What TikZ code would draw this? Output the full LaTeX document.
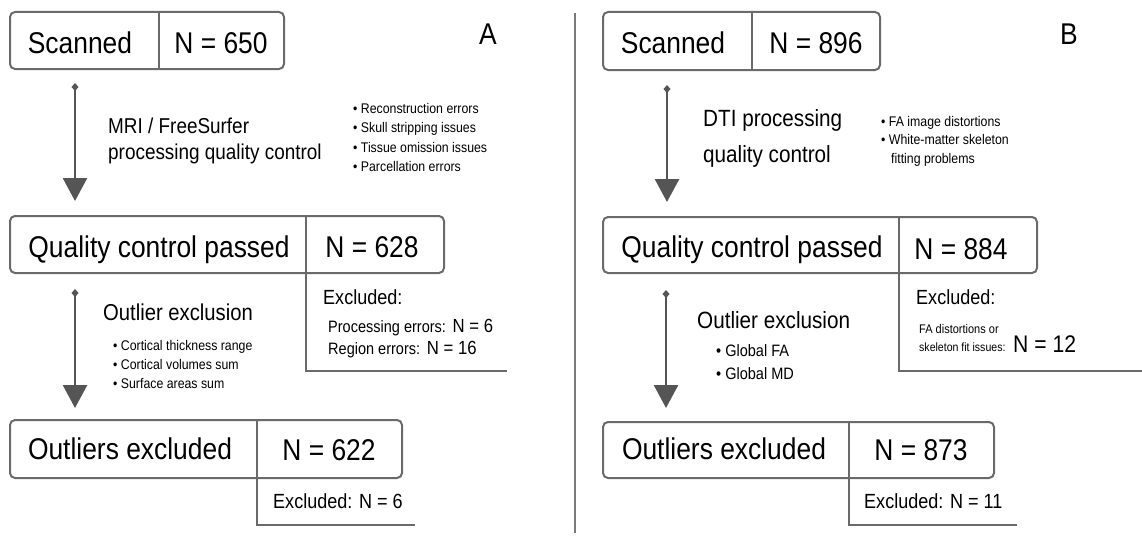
\documentclass[tikz,border=0pt]{standalone}
\usepackage{fontspec}
\setmainfont[FakeStretch=0.88]{Liberation Sans}
\usetikzlibrary{arrows.meta}
\definecolor{boxgray}{HTML}{6A6A6A}
\definecolor{arrgray}{HTML}{555555}
\definecolor{sepgray}{HTML}{7A7A7A}
\newcommand{\fs}[1]{\fontsize{#1}{#1}\selectfont}
\tikzset{
  box/.style={draw=boxgray, line width=2pt, rounded corners=5pt, inner sep=0pt},
  boxline/.style={draw=boxgray, line width=2pt},
  exline/.style={draw=boxgray, line width=1.6pt},
  flowarrow/.style={draw=arrgray, line width=2.7pt, {Diamond[width=7pt,length=8pt]}-{Triangle[width=24pt,length=23pt]}},
  big/.style={font=\fs{30}, inner sep=0pt, anchor=base},
  lab/.style={font=\fs{30}, inner sep=0pt, anchor=base},
  mid/.style={font=\fs{21.5}, inner sep=0pt, anchor=base west},
  excl/.style={font=\fs{20.5}, inner sep=0pt, anchor=base west},
  small/.style={font=\fs{14}, inner sep=0pt, anchor=base west},
}
\begin{document}
\begin{tikzpicture}[x=1pt,y=-1pt]
\useasboundingbox (0,0) rectangle (1142,535);
% separator
\draw[sepgray, line width=1.6pt] (575,13) -- (575,533);

% ================= Panel A =================
\node[lab] (labA) at (488,45) {A};
% Scanned box
\node[box, minimum width=274pt, minimum height=57pt] (a1) at (147,40.5) {};
\coordinate (a1d) at (159,0);
\draw[boxline] (a1.north -| a1d) -- (a1.south -| a1d);
\node[big] (a1t) at (80,53) {Scanned};
\node[big] (a1n) at (221,53) {N = 650};
% arrow 1
\coordinate (a1s) at (75,83);
\coordinate (a2e) at (75,201);
\draw[flowarrow] (a1s) -- (a2e);
\node[mid] (a1q1) at (108,133) {MRI / FreeSurfer};
\node[mid] (a1q2) at (108,159) {processing quality control};
\node[small] (a1b1) at (353,113) {• Reconstruction errors};
\node[small] (a1b2) at (353,132.5) {• Skull stripping issues};
\node[small] (a1b3) at (353,152) {• Tissue omission issues};
\node[small] (a1b4) at (353,171.5) {• Parcellation errors};
% QC passed box
\node[box, minimum width=434pt, minimum height=57pt] (a2) at (227,244.5) {};
\coordinate (a2d) at (306,0);
\draw[boxline] (a2.north -| a2d) -- (a2.south -| a2d);
\node[big] (a2t) at (159,257) {Quality control passed};
\node[big] (a2n) at (372,257) {N = 628};
% excluded bracket
\coordinate (a2c) at (306,371);
\coordinate (a2r) at (507,371);
\draw[exline] (a2.south -| a2d) -- (a2c) -- (a2r);
\node[excl] (a2x) at (323,304) {Excluded:};
\node[excl] (a2x1) at (328,332) {{\fs{16.5}Processing errors:} {\fs{19}N = 6}};
\node[excl] (a2x2) at (328,354) {{\fs{16.5}Region errors:} {\fs{19}N = 16}};
% arrow 2
\coordinate (a2s) at (75,289);
\coordinate (a3e) at (75,408);
\draw[flowarrow] (a2s) -- (a3e);
\node[mid, font=\fs{23}] (a2o) at (103,320) {Outlier exclusion};
\node[small] (a2b1) at (113,350) {• Cortical thickness range};
\node[small] (a2b2) at (113,369) {• Cortical volumes sum};
\node[small] (a2b3) at (113,388) {• Surface areas sum};
% Outliers excluded box
\node[box, minimum width=392pt, minimum height=58pt] (a3) at (206,449) {};
\coordinate (a3d) at (257,0);
\draw[boxline] (a3.north -| a3d) -- (a3.south -| a3d);
\node[big] (a3t) at (130,459) {Outliers excluded};
\node[big] (a3n) at (329,460) {N = 622};
\coordinate (a3c) at (257,525);
\coordinate (a3r) at (415,525);
\draw[exline] (a3.south -| a3d) -- (a3c) -- (a3r);
\node[excl] (a3x) at (273,508) {Excluded: N = 6};

% ================= Panel B =================
\node[lab] (labB) at (1069,45) {B};
\node[box, minimum width=277pt, minimum height=58pt] (b1) at (741.5,41) {};
\coordinate (b1d) at (752,0);
\draw[boxline] (b1.north -| b1d) -- (b1.south -| b1d);
\node[big] (b1t) at (673,53) {Scanned};
\node[big] (b1n) at (816,53) {N = 896};
% arrow 1
\coordinate (b1s) at (667,85);
\coordinate (b2e) at (667,202);
\draw[flowarrow] (b1s) -- (b2e);
\node[mid, font=\fs{23.5}] (b1q1) at (703,126) {DTI processing};
\node[mid, font=\fs{23.5}] (b1q2) at (703,162) {quality control};
\node[small] (b1b1) at (881,126) {• FA image distortions};
\node[small] (b1b2) at (881,144.5) {• White-matter skeleton};
\node[small] (b1b3) at (891,163) {fitting problems};
% QC passed
\node[box, minimum width=434pt, minimum height=56pt] (b2) at (820,245) {};
\coordinate (b2d) at (899,0);
\draw[boxline] (b2.north -| b2d) -- (b2.south -| b2d);
\node[big] (b2t) at (752,257) {Quality control passed};
\node[big] (b2n) at (961,259) {N = 884};
\coordinate (b2c) at (899,371);
\coordinate (b2r) at (1142,371);
\draw[exline] (b2.south -| b2d) -- (b2c) -- (b2r);
\node[excl] (b2x) at (916,304) {Excluded:};
\node[small, font=\fs{12.5}] (b2x1) at (919,333) {FA distortions or};
\node[small, font=\fs{12}] (b2x2) at (919,351) {skeleton fit issues:};
\node[excl, font=\fs{24}] (b2x3) at (1013,352) {N = 12};
% arrow 2
\coordinate (b2s) at (666,290);
\coordinate (b3e) at (666,408);
\draw[flowarrow] (b2s) -- (b3e);
\node[mid, font=\fs{23.5}] (b2o) at (697,328) {Outlier exclusion};
\node[small, font=\fs{16.5}] (b2b1) at (716,356) {• Global FA};
\node[small, font=\fs{16.5}] (b2b2) at (716,379) {• Global MD};
% Outliers excluded
\node[box, minimum width=391pt, minimum height=56pt] (b3) at (798.5,450) {};
\coordinate (b3d) at (849,0);
\draw[boxline] (b3.north -| b3d) -- (b3.south -| b3d);
\node[big] (b3t) at (724,459) {Outliers excluded};
\node[big] (b3n) at (921,460) {N = 873};
\coordinate (b3c) at (849,525);
\coordinate (b3r) at (1017,525);
\draw[exline] (b3.south -| b3d) -- (b3c) -- (b3r);
\node[excl] (b3x) at (864,508) {Excluded: N = 11};
\end{tikzpicture}
\end{document}
